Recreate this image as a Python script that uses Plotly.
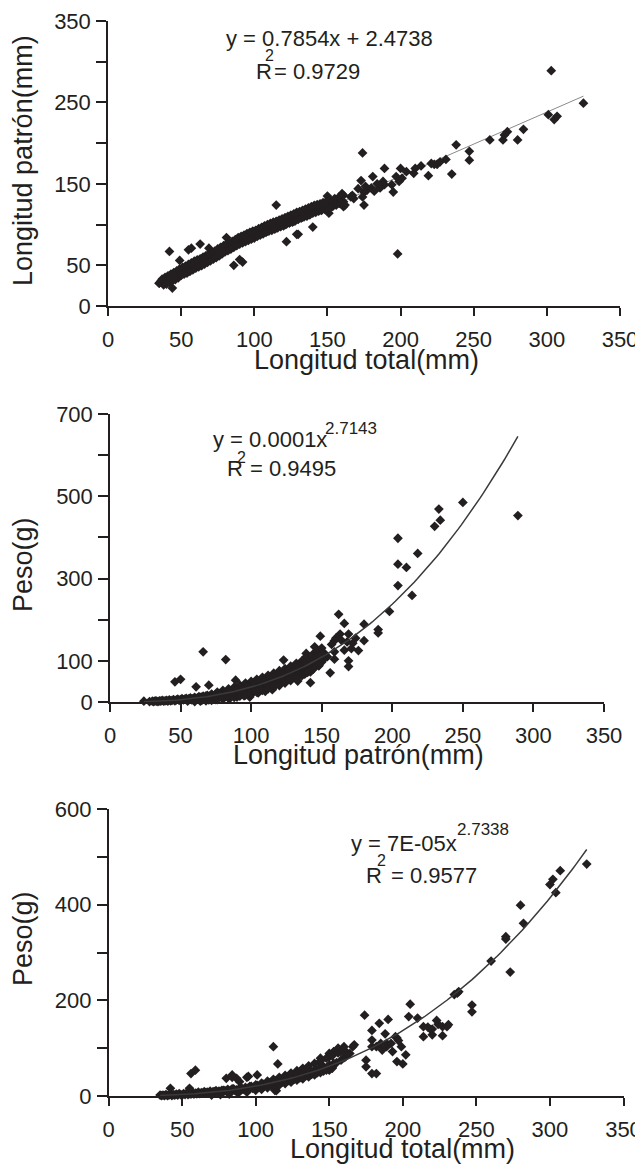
import plotly.graph_objects as go

# ======================= DATA (x, y) pairs =======================
# ---- Panel 1: Longitud total (mm) vs Longitud patrón (mm)
p1_sparse = [(303, 289), (325, 249), (301, 235), (305, 229), (307, 233), (284, 217), (280, 204), (273, 214),
             (271, 210), (270, 204), (261, 204), (238, 198), (247, 190), (247, 179), (235, 162), (231, 180),
             (227, 177), (225, 174), (223, 174), (221, 175), (219, 160), (214, 172), (210, 169), (209, 163),
             (204, 165), (200, 169), (201, 157), (199, 153), (197, 159), (194, 149), (189, 169), (188, 153),
             (189, 149), (186, 145), (181, 159), (180, 145), (177, 142), (175, 140), (174, 134), (175, 124),
             (174, 188), (173, 154), (168, 132), (167, 136), (160, 138), (159, 126), (161, 122), (153, 122),
             (195, 140), (198, 64), (150, 135), (151, 114), (155, 125), (157, 127), (161, 128), (166, 134),
             (140, 97), (130, 88), (122, 79), (129, 88), (115, 124), (81, 84), (42, 67), (49, 56), (55, 69),
             (57, 71), (63, 76), (69, 71), (86, 50), (90, 57), (92, 54), (44, 22), (35, 28), (184, 150),
             (182, 141), (176, 147), (171, 144)]
p1_band = [(35, 28), (36, 30), (37, 29), (38, 31), (38, 28), (39, 32), (40, 33), (40, 30), (41, 34), (42, 33),
           (43, 36), (43, 33), (44, 35), (45, 38), (46, 36), (46, 39), (47, 38), (48, 41), (49, 40), (49, 43),
           (50, 42), (51, 44), (52, 46), (52, 42), (53, 45), (54, 47), (55, 48), (55, 45), (56, 49), (57, 48),
           (58, 51), (58, 47), (59, 50), (60, 53), (61, 52), (61, 49), (62, 55), (63, 53), (64, 56), (64, 52),
           (65, 57), (66, 56), (67, 59), (67, 55), (68, 58), (69, 61), (70, 59), (70, 63), (71, 61), (72, 64),
           (73, 62), (73, 66), (74, 64), (75, 67), (76, 65), (76, 68), (77, 67), (78, 70), (79, 69), (79, 72),
           (80, 71), (81, 73), (82, 70), (82, 75), (83, 74), (84, 76), (85, 73), (85, 78), (86, 77), (87, 79),
           (88, 76), (88, 81), (89, 80), (90, 82), (91, 79), (91, 84), (92, 83), (93, 85), (94, 81), (94, 86),
           (95, 85), (96, 87), (97, 84), (97, 89), (98, 88), (99, 90), (100, 85), (100, 91), (101, 89), (102, 92),
           (103, 88), (103, 93), (104, 91), (105, 94), (106, 90), (106, 96), (107, 94), (108, 95), (109, 92),
           (109, 98), (110, 96), (111, 97), (112, 94), (112, 99), (113, 98), (114, 100), (115, 96), (115, 102),
           (116, 100), (117, 101), (118, 98), (118, 104), (119, 102), (120, 103), (121, 100), (121, 106),
           (122, 104), (123, 105), (124, 102), (124, 108), (125, 106), (126, 107), (127, 104), (127, 110),
           (128, 109), (129, 112), (130, 107), (130, 111), (131, 110), (132, 114), (133, 109), (133, 113),
           (134, 112), (135, 115), (136, 111), (136, 117), (137, 114), (138, 118), (139, 116), (140, 119),
           (141, 117), (142, 121), (143, 119), (144, 120), (145, 118), (146, 122), (147, 121), (148, 123),
           (150, 120), (152, 124), (154, 123), (156, 125), (158, 126), (162, 124)]
p1_upper = [(37, 33), (39, 35), (41, 37), (43, 39), (45, 41), (47, 43), (49, 45.5), (51, 47.5), (53, 49),
            (55, 51), (57, 53), (59, 55), (61, 56.5), (63, 58), (65, 60), (67, 62), (69, 63.5), (71, 65.5),
            (73, 67.5), (75, 70), (77, 72), (79, 74), (81, 76), (83, 78), (85, 79.5), (87, 81.5), (89, 84),
            (91, 85.5), (93, 87), (95, 89), (97, 90.5), (99, 92), (101, 93), (103, 95), (105, 96.5), (107, 98.5),
            (109, 100), (111, 101.5), (113, 103), (115, 104), (117, 105.5), (119, 107), (121, 108.5), (123, 110),
            (125, 111.5), (127, 113), (129, 115), (131, 116), (133, 117.5), (135, 119), (137, 120.5), (139, 122),
            (141, 123.5), (143, 124.5), (145, 125.5), (147, 127), (149, 128), (152, 130), (155, 132), (158, 134),
            (161, 136)]
p1_lower = [(38, 26), (40, 27), (42, 29), (44, 31), (46, 32.5), (48, 34.5), (50, 37.5), (52, 39), (54, 40.5),
            (56, 42.5), (58, 44.5), (60, 46.5), (62, 48), (64, 49.5), (66, 51.5), (68, 53.5), (70, 55.5),
            (72, 57.5), (74, 59.5), (76, 61.5), (78, 64), (80, 66.5), (82, 68), (84, 70), (86, 72), (88, 74),
            (90, 76), (92, 77.5), (94, 79), (96, 80.5), (98, 82), (100, 83.5), (102, 85.5), (104, 87), (106, 88.5),
            (108, 90.5), (110, 92), (112, 93), (114, 94.5), (116, 96), (118, 97.5), (120, 98.5), (122, 100.5),
            (124, 102), (126, 103), (128, 104.5), (130, 106.5), (132, 108), (134, 109.5), (136, 110.5), (138, 112),
            (140, 114), (142, 115), (144, 116.5), (146, 117.5), (148, 119), (150, 120.5), (153, 122), (156, 124),
            (159, 127)]
fit1_slope, fit1_icpt = 0.7854, 2.4738

# ---- Panel 2: Longitud patrón (mm) vs Peso (g)
p2_sparse = [(289, 453), (250, 485), (233, 469), (234, 442), (230, 427), (218, 361), (204, 398), (204, 335),
             (210, 327), (204, 283), (214, 259), (198, 220), (162, 213), (166, 191), (180, 189), (190, 176),
             (190, 168), (180, 149), (174, 155), (172, 143), (169, 165), (163, 165), (160, 155), (159, 149),
             (166, 126), (171, 130), (176, 125), (159, 122), (159, 104), (169, 100), (169, 86), (156, 71),
             (66, 122), (82, 103), (46, 49), (50, 55), (61, 37), (70, 41), (89, 53), (99, 12), (123, 102),
             (133, 51), (138, 68), (142, 47), (149, 160), (145, 134), (139, 118), (139, 110), (154, 110),
             (142, 73), (152, 118), (157, 140), (164, 150), (168, 146)]
p2_band = [(24, 2), (28, 1), (30, 2), (31, 1), (32, 3), (33, 2), (34, 1), (35, 3), (36, 2), (37, 4), (38, 2),
           (39, 3), (40, 4), (41, 2), (42, 5), (43, 3), (44, 4), (45, 6), (46, 3), (47, 5), (48, 7), (49, 4),
           (50, 6), (51, 8), (52, 5), (53, 7), (54, 9), (55, 6), (56, 8), (57, 10), (58, 7), (59, 9), (60, 11),
           (61, 8), (62, 10), (63, 13), (64, 9), (65, 12), (66, 14), (67, 10), (68, 13), (69, 16), (70, 12),
           (71, 15), (72, 18), (73, 13), (74, 16), (75, 19), (76, 15), (77, 18), (78, 21), (79, 16), (80, 20),
           (81, 23), (82, 18), (83, 22), (84, 25), (85, 19), (86, 24), (87, 28), (88, 21), (89, 26), (90, 30),
           (91, 23), (92, 28), (93, 33), (94, 25), (95, 31), (96, 37), (97, 27), (98, 34), (99, 42), (100, 29),
           (101, 38), (102, 46), (103, 31), (104, 41), (105, 49), (106, 34), (107, 44), (108, 52), (109, 37),
           (110, 47), (111, 55), (112, 40), (113, 50), (114, 58), (115, 43), (116, 53), (117, 62), (118, 46),
           (119, 57), (120, 66), (121, 49), (122, 61), (123, 70), (124, 53), (125, 65), (126, 74), (127, 57),
           (128, 69), (129, 78), (130, 61), (131, 73), (132, 82), (133, 65), (134, 77), (135, 86), (136, 70),
           (137, 81), (138, 90), (139, 75), (140, 85), (141, 94), (142, 80), (143, 89), (144, 98), (145, 84),
           (146, 93), (147, 102), (148, 88), (150, 97), (152, 106),
           (55, 2), (60, 3), (65, 4), (70, 5), (75, 6), (80, 8), (85, 9), (90, 12), (95, 15), (100, 18),
           (105, 22), (110, 26), (115, 30)]
p2_upper = [(56, 7), (60, 9), (64, 11), (68, 15), (72, 19), (76, 24), (80, 28), (84, 32), (88, 36), (92, 41),
            (96, 46), (100, 50), (104, 55), (108, 60), (112, 65), (116, 70), (120, 76), (124, 81), (128, 87),
            (132, 94), (136, 100), (140, 108), (144, 117), (147, 125), (150, 131)]
p2_lower = [(60, 1), (64, 2), (68, 3), (72, 4), (76, 6), (80, 7), (84, 9), (88, 11), (92, 14), (96, 17),
            (100, 20), (104, 24), (108, 28), (112, 32), (116, 36), (120, 40), (124, 46), (128, 52), (132, 58),
            (136, 64), (140, 72), (144, 80), (148, 90)]
p2_mid = [(58, 5), (62, 7), (66, 9), (70, 12), (74, 15), (78, 18), (82, 21), (86, 25), (90, 29), (94, 33),
          (98, 38), (102, 42), (106, 47), (110, 52), (114, 57), (118, 63), (122, 69), (126, 75), (130, 81),
          (134, 88), (138, 95), (142, 102), (146, 110), (150, 118)]
fit2_coef, fit2_exp = 0.000135, 2.7143

# ---- Panel 3: Longitud total (mm) vs Peso (g)
p3_sparse = [(325, 485), (307, 471), (302, 453), (300, 442), (304, 425), (280, 399), (282, 361), (270, 333),
             (270, 328), (273, 259), (260, 282), (237, 215), (238, 218), (235, 212), (247, 190), (247, 176),
             (227, 145), (224, 150), (220, 128), (217, 144), (220, 140), (214, 124), (230, 145), (231, 149),
             (227, 126), (205, 192), (204, 166), (210, 163), (214, 145), (190, 160), (195, 124), (189, 103),
             (196, 121), (199, 103), (196, 72), (200, 67), (202, 86), (174, 169), (179, 137), (179, 117),
             (179, 103), (175, 75), (175, 61), (179, 47), (182, 47), (182, 103), (185, 110), (186, 96),
             (189, 110), (192, 110), (167, 107), (160, 103), (158, 93), (161, 82), (164, 89), (150, 89),
             (150, 82), (153, 93), (156, 100), (144, 79), (144, 68), (150, 54), (112, 103), (115, 67),
             (114, 11), (95, 41), (87, 37), (84, 44), (101, 44), (56, 47), (59, 54), (42, 16), (55, 16),
             (35, 2), (184, 152), (188, 130), (193, 93), (197, 116), (153, 68), (166, 103), (80, 37), (84, 39),
             (89, 30), (94, 39), (113, 12), (223, 158), (219, 139)]
p3_band = [(36, 1), (37, 2), (38, 1), (39, 3), (40, 1), (41, 2), (42, 4), (43, 1), (44, 3), (45, 2), (46, 4),
           (47, 2), (48, 5), (49, 3), (50, 2), (51, 5), (52, 3), (53, 6), (54, 3), (55, 5), (56, 4), (57, 7),
           (58, 4), (59, 6), (60, 5), (61, 8), (62, 5), (63, 7), (64, 6), (65, 9), (66, 6), (67, 8), (68, 7),
           (69, 10), (70, 7), (71, 9), (72, 8), (73, 11), (74, 8), (75, 10), (76, 9), (77, 12), (78, 9), (79, 11),
           (80, 10), (81, 14), (82, 10), (83, 12), (84, 11), (85, 15), (86, 11), (87, 13), (88, 12), (89, 16),
           (90, 13), (91, 15), (92, 14), (93, 18), (94, 14), (95, 17), (96, 16), (97, 20), (98, 16), (99, 19),
           (100, 18), (101, 22), (102, 18), (103, 21), (104, 20), (105, 25), (106, 21), (107, 24), (108, 23),
           (109, 28), (110, 23), (111, 27), (112, 26), (113, 31), (114, 26), (115, 30), (116, 29), (117, 34),
           (118, 29), (119, 33), (120, 32), (121, 38), (122, 32), (123, 37), (124, 35), (125, 41), (126, 35),
           (127, 40), (128, 39), (129, 45), (130, 38), (131, 44), (132, 42), (133, 49), (134, 42), (135, 48),
           (136, 46), (137, 53), (138, 45), (139, 51), (140, 50), (141, 57), (142, 49), (143, 55), (144, 54),
           (145, 62), (146, 52), (147, 59), (148, 58), (150, 65), (152, 60), (155, 70), (158, 75), (160, 80),
           (162, 90)]
p3_upper = [(60, 5), (66, 7), (72, 9), (78, 12), (84, 15), (90, 17), (96, 20), (100, 23), (104, 27), (108, 31),
            (112, 35), (116, 39), (120, 43), (124, 48), (128, 53), (132, 58), (136, 63), (140, 68), (144, 73),
            (148, 79), (152, 84), (156, 90), (160, 96)]
p3_lower = [(70, 2), (76, 3), (82, 4), (88, 6), (94, 8), (100, 12), (104, 14), (108, 17), (112, 20), (116, 23),
            (120, 26), (124, 29), (128, 33), (132, 36), (136, 40), (140, 44), (144, 49), (148, 54), (152, 58)]
fit3_coef, fit3_exp = 7e-05, 2.7338

# axis ticks
x_ticks = [0, 50, 100, 150, 200, 250, 300, 350]
y1_vals = [0, 50, 100, 150, 200, 250, 300, 350]
y1_text = ["0", "50", "", "150", "", "250", "", "350"]
y2_vals = [0, 100, 200, 300, 400, 500, 600, 700]
y2_text = ["0", "100", "", "300", "", "500", "", "700"]
y3_vals = [0, 100, 200, 300, 400, 500, 600]
y3_text = ["0", "", "200", "", "400", "", "600"]

# ======================= FIGURE =======================
INK = "#231f20"
FONT = "Liberation Sans, Arial, sans-serif"
TICK = 22
TITLE = 27
EQ = 22
SUP = 16
EXP = 17


def unzip(*groups):
    pts = [p for g in groups for p in g]
    return [p[0] for p in pts], [p[1] for p in pts]


def fit_x(xs, n=120):
    lo, hi = min(xs), max(xs)
    return [lo + (hi - lo) * i / (n - 1) for i in range(n)]


x1, y1 = unzip(p1_sparse, p1_band, p1_upper, p1_lower)
x2, y2 = unzip(p2_sparse, p2_band, p2_upper, p2_lower, p2_mid)
x3, y3 = unzip(p3_sparse, p3_band, p3_upper, p3_lower)

fx1 = fit_x(x1)
fy1 = [fit1_slope * v + fit1_icpt for v in fx1]
fx2 = fit_x(x2)
fy2 = [fit2_coef * v ** fit2_exp for v in fx2]
fx3 = fit_x(x3)
fy3 = [fit3_coef * v ** fit3_exp for v in fx3]

marker = dict(symbol="diamond", size=7.5, color=INK, line=dict(width=0))

fig = go.Figure()
fig.add_trace(go.Scatter(x=fx1, y=fy1, mode="lines", line=dict(color="#8a8a8a", width=1),
                         xaxis="x", yaxis="y", hoverinfo="skip"))
fig.add_trace(go.Scatter(x=x1, y=y1, mode="markers", marker=marker, cliponaxis=False, xaxis="x", yaxis="y"))
fig.add_trace(go.Scatter(x=x2, y=y2, mode="markers", marker=marker, cliponaxis=False, xaxis="x2", yaxis="y2"))
fig.add_trace(go.Scatter(x=fx2, y=fy2, mode="lines", line=dict(color="#3a3a3a", width=1.5),
                         xaxis="x2", yaxis="y2", hoverinfo="skip"))
fig.add_trace(go.Scatter(x=x3, y=y3, mode="markers", marker=marker, cliponaxis=False, xaxis="x3", yaxis="y3"))
fig.add_trace(go.Scatter(x=fx3, y=fy3, mode="lines", line=dict(color="#3a3a3a", width=1.5),
                         xaxis="x3", yaxis="y3", hoverinfo="skip"))

# the page body keeps an 8px margin, so the figure starts at (8, 8) in the window
OFF = 8
W, H = 643 - OFF, 1165 - OFF


def px(x):
    return (x - OFF) / W


def py(y):
    return 1 - (y - OFF) / H


def xax(dom, anchor):
    return dict(domain=dom, anchor=anchor, range=[0, 350], tickvals=x_ticks,
                ticktext=[str(v) for v in x_ticks], showline=True, linecolor=INK, linewidth=1.5,
                ticks="outside", ticklen=8, tickwidth=1.5, tickcolor=INK, showgrid=False,
                zeroline=False, ticklabelstandoff=5, automargin=False, fixedrange=True,
                tickfont=dict(family=FONT, size=TICK, color=INK))


def yax(dom, anchor, rng, vals, texts):
    return dict(domain=dom, anchor=anchor, range=rng, tickvals=vals, ticktext=texts,
                showline=True, linecolor=INK, linewidth=1.5, ticks="outside", ticklen=10,
                tickwidth=1.5, tickcolor=INK, showgrid=False, zeroline=False, automargin=False,
                fixedrange=True, ticklabelstandoff=1,
                tickfont=dict(family=FONT, size=TICK, color=INK))


fig.update_layout(
    template="none",
    width=W, height=H, margin=dict(l=0, r=0, t=0, b=0, pad=0), autosize=False,
    paper_bgcolor="white", plot_bgcolor="white", showlegend=False,
    xaxis=xax([px(108), px(620)], "y"),
    yaxis=yax([py(306), py(21)], "x", [0, 350], y1_vals, y1_text),
    xaxis2=xax([px(110), px(604)], "y2"),
    yaxis2=yax([py(702), py(414)], "x2", [0, 700], y2_vals, y2_text),
    xaxis3=xax([px(108.6), px(623.5)], "y3"),
    yaxis3=yax([py(1096), py(809)], "x3", [0, 600], y3_vals, y3_text),
)


def note(text, x, y, size, xanchor="left", angle=0):
    fig.add_annotation(text=text, x=px(x), y=py(y), xref="paper", yref="paper",
                       xanchor=xanchor, yanchor="middle", showarrow=False, textangle=angle,
                       font=dict(family=FONT, size=size, color=INK))


# equations
note("y = 0.7854x + 2.4738", 224, 39, EQ)
note("R", 254, 71, EQ)
note("2", 263, 56, SUP)
note("= 0.9729", 272, 71, EQ)

note("y = 0.0001x", 211, 439, EQ)
note("2.7143", 323, 428, EXP)
note("R", 225, 468, EQ)
note("2", 235, 457, SUP)
note("= 0.9495", 248, 468, EQ)

note("y = 7E-05x", 349, 843, EQ)
note("2.7338", 455, 829, EXP)
note("R", 364, 875, EQ)
note("2", 375, 860, SUP)
note("= 0.9577", 389, 875, EQ)

# axis titles
note("Longitud total(mm)", 366, 360, TITLE, "center")
note("Longitud patrón(mm)", 23, 161, TITLE, "center", -90)
note("Longitud patrón(mm)", 358, 755, TITLE, "center")
note("Peso(g)", 23, 565, TITLE, "center", -90)
note("Longitud total(mm)", 402, 1149, TITLE, "center")
note("Peso(g)", 23, 939, TITLE, "center", -90)

fig.write_html("out.html", config={"displayModeBar": False})
